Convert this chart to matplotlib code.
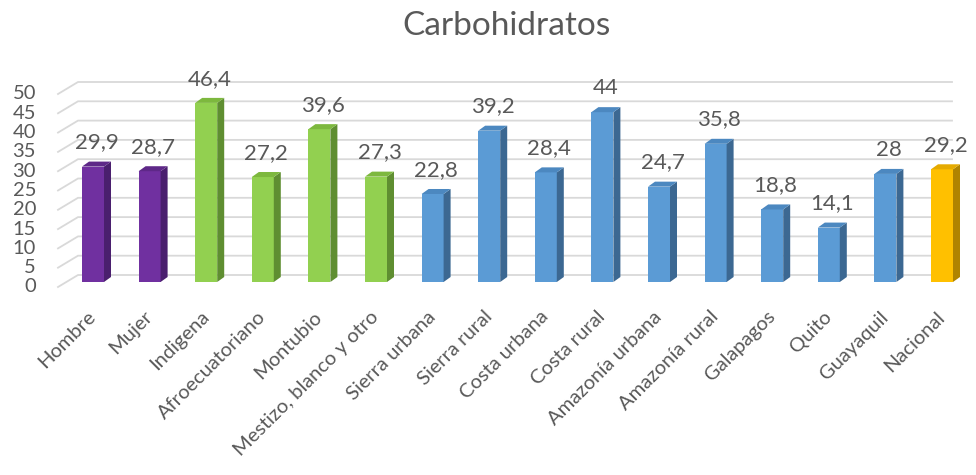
import numpy as np
import matplotlib.pyplot as plt
from matplotlib.patches import Polygon

categorias = ["Hombre", "Mujer", "Indigena", "Afroecuatoriano", "Montubio",
              "Mestizo, blanco y otro", "Sierra urbana", "Sierra rural",
              "Costa urbana", "Costa rural", "Amazonía urbana", "Amazonía rural",
              "Galapagos", "Quito", "Guayaquil", "Nacional"]
valores = [29.9, 28.7, 46.4, 27.2, 39.6, 27.3, 22.8, 39.2,
           28.4, 44, 24.7, 35.8, 18.8, 14.1, 28, 29.2]
etiquetas = ["29,9", "28,7", "46,4", "27,2", "39,6", "27,3", "22,8", "39,2",
             "28,4", "44", "24,7", "35,8", "18,8", "14,1", "28", "29,2"]
grupos = ["sexo"] * 2 + ["etnia"] * 4 + ["region"] * 9 + ["nacional"]
yticks = list(range(0, 55, 5))

# front, top, side shades
colores = {
    "sexo": ("#7030A0", "#5E2888", "#4A1F6E"),
    "etnia": ("#92D050", "#7DB83E", "#5F8E31"),
    "region": ("#5B9BD5", "#4C88C0", "#3C6892"),
    "nacional": ("#FFC000", "#E5AA00", "#B08400"),
}

plt.rcParams['font.family'] = ['Lato', 'DejaVu Sans']
texto = "#595959"

fig = plt.figure(figsize=(9.76, 4.75), dpi=100)
ax = fig.add_axes([0, 0, 1, 1])
ax.axis("off")

# pixel scale: 56.6 px per category, 3.86 px per unit
px_x, px_y = 56.6, 3.86
x0, y0 = 93, 282
ax.set_xlim(-x0 / px_x, (976 - x0) / px_x)
ax.set_ylim((y0 - 475) / px_y, y0 / px_y)

x = np.arange(len(valores))
w = 22 / px_x
dx, dy = 7 / px_x, 5 / px_y

# walls / gridlines
wl_front, wl_back = (58 - x0) / px_x, (78 - x0) / px_x
wall_right = (952 - x0) / px_x
fy, by = -5 / px_y, 7 / px_y
for g in yticks:
    ax.plot([wl_front, wl_back, wall_right], [g + fy, g + by, g + by],
            color="#D9D9D9", lw=1.3, zorder=1, solid_joinstyle="miter")
    ax.text((36 - x0) / px_x, g + fy, str(g), ha="right", va="center",
            fontsize=14.5, color=texto)

for xi, v, lab, grp, cat in zip(x, valores, etiquetas, grupos, categorias):
    front, top, side = colores[grp]
    ax.bar(xi, v, width=w, color=front, zorder=3)
    l, r = xi - w / 2, xi + w / 2
    ax.add_patch(Polygon([(r, 0), (r + dx, dy), (r + dx, v + dy), (r, v)],
                         closed=True, color=side, zorder=3, lw=0))
    ax.add_patch(Polygon([(l, v), (r, v), (r + dx, v + dy), (l + dx, v + dy)],
                         closed=True, color=top, zorder=3, lw=0))
    ax.text(xi + dx / 2, v + dy + 2.4, lab, ha="center", va="bottom",
            fontsize=16, color=texto, zorder=4)
    ax.text(xi + 0.0, -32 / px_y, cat, ha="right", va="center", rotation=45,
            rotation_mode="anchor", fontsize=14.5, color=texto)

ax.text((506) / px_x - x0 / px_x, (y0 - 26) / px_y, "Carbohidratos",
        ha="center", va="center", fontsize=24, color=texto)

fig.savefig("out.png", dpi=100)
